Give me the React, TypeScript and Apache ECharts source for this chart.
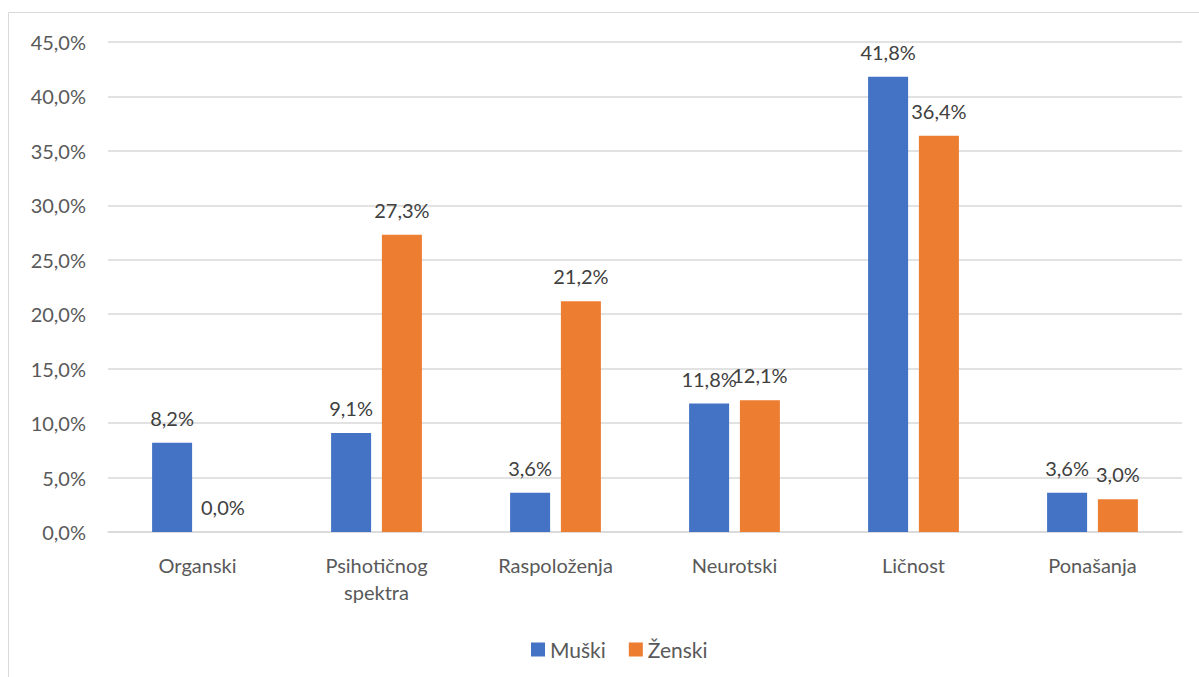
import React, { useEffect, useRef } from "react";
import * as echarts from "echarts";

const categories = ["Organski", "Psihotičnog\nspektra", "Raspoloženja", "Neurotski", "Ličnost", "Ponašanja"];
const muski = [8.2, 9.1, 3.6, 11.8, 41.8, 3.6];
const zenski = [0.0, 27.3, 21.2, 12.1, 36.4, 3.0];
const seriesNames = ["Muški", "Ženski"];

const FONT = "Lato, 'Open Sans', sans-serif";
const fmt = (v: number) => v.toFixed(1).replace(".", ",") + "%";

export default function App() {
  const ref = useRef<HTMLDivElement>(null);
  useEffect(() => {
    if (!ref.current) return;
    const chart = echarts.init(ref.current, undefined, { renderer: "svg" });
    const labelCfg = {
      show: true,
      position: "top" as const,
      distance: 15,
      color: "#404040",
      fontSize: 20,
      fontFamily: FONT,
      formatter: (p: any) => fmt(p.value),
    };
    chart.setOption({
      animation: false,
      backgroundColor: "#ffffff",
      textStyle: { fontFamily: FONT },
      graphic: [
        {
          type: "rect",
          shape: { x: 8.5, y: 12.5, width: 1400, height: 1000 },
          style: { fill: "none", stroke: "#d9d9d9", lineWidth: 1 },
          silent: true,
        },
      ],
      grid: { left: 108, right: 17, top: 42, bottom: 145, containLabel: false },
      legend: {
        data: seriesNames,
        top: 634,
        left: 526,
        itemWidth: 14,
        itemHeight: 14,
        itemGap: 23,
        icon: "rect",
        textStyle: { color: "#595959", fontSize: 21, fontFamily: FONT },
      },
      xAxis: {
        type: "category",
        data: categories,
        axisLine: { show: true, lineStyle: { color: "#d9d9d9", width: 1.5 } },
        axisTick: { show: false },
        axisLabel: { color: "#595959", fontSize: 20, fontFamily: FONT, margin: 19, lineHeight: 27 },
      },
      yAxis: {
        type: "value",
        min: 0,
        max: 45,
        interval: 5,
        axisLine: { show: false },
        axisTick: { show: false },
        splitLine: { lineStyle: { color: "#d9d9d9", width: 1.5 } },
        axisLabel: {
          color: "#595959",
          fontSize: 20,
          fontFamily: FONT,
          margin: 22,
          formatter: (v: number) => fmt(v),
        },
      },
      series: [
        {
          name: seriesNames[0],
          type: "bar",
          data: muski,
          barWidth: 40,
          barGap: "27%",
          itemStyle: { color: "#4472C4" },
          label: labelCfg,
        },
        {
          name: seriesNames[1],
          type: "bar",
          data: zenski,
          barWidth: 40,
          itemStyle: { color: "#ED7D31" },
          label: labelCfg,
        },
      ],
    });
    return () => chart.dispose();
  }, []);
  return (
    <div
      ref={ref}
      style={{ position: "fixed", left: 0, top: 0, width: 1199, height: 677 }}
    />
  );
}
